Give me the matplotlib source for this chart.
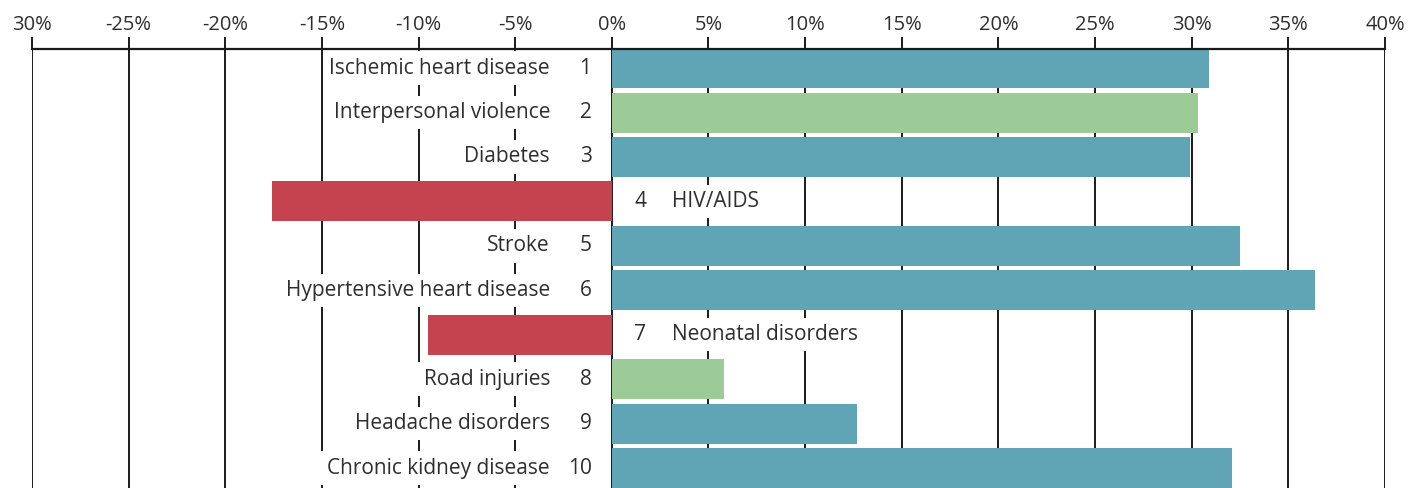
import matplotlib.pyplot as plt

causes = ["Ischemic heart disease", "Interpersonal violence", "Diabetes", "HIV/AIDS",
          "Stroke", "Hypertensive heart disease", "Neonatal disorders", "Road injuries",
          "Headache disorders", "Chronic kidney disease"]
ranks = [1, 2, 3, 4, 5, 6, 7, 8, 9, 10]
change = [30.9, 30.3, 29.9, -17.6, 32.5, 36.4, -9.5, 5.8, 12.7, 32.1]
group = ["ncd", "injury", "ncd", "comm", "ncd", "ncd", "comm", "injury", "ncd", "ncd"]

tick_vals = [-30, -25, -20, -15, -10, -5, 0, 5, 10, 15, 20, 25, 30, 35, 40]
tick_labels = ["30%", "-25%", "-20%", "-15%", "-10%", "-5%", "0%", "5%", "10%",
               "15%", "20%", "25%", "30%", "35%", "40%"]

colors = {"ncd": "#5fa5b6", "injury": "#9ccb98", "comm": "#c4434f"}
txt = "#2e2e2e"

plt.rcParams['font.family'] = ['Open Sans', 'DejaVu Sans']

fig = plt.figure(figsize=(14.18, 4.88), dpi=100)
ax = fig.add_axes([32 / 1418, 0, (1385 - 32) / 1418, 1 - 49 / 488])

ypos = list(range(len(causes)))
ax.barh(ypos, change, height=0.9, color=[colors[g] for g in group], zorder=3)

# labels with white boxes hiding the gridlines
for y, name, r, v in zip(ypos, causes, ranks, change):
    box = dict(boxstyle="square,pad=0.3", facecolor="white", edgecolor="none")
    if v >= 0:
        ax.text(-3.2, y, name, ha="right", va="center", fontsize=15, color=txt,
                bbox=box, zorder=2)
        ax.text(-1.05, y, str(r), ha="right", va="center", fontsize=15, color=txt, zorder=2)
    else:
        ax.text(1.15, y, str(r), ha="left", va="center", fontsize=15, color=txt, zorder=2)
        ax.text(3.1, y, name, ha="left", va="center", fontsize=15, color=txt,
                bbox=box, zorder=2)

ax.set_xlim(-30, 40)
ax.set_ylim(9.45, -0.43)

for x in tick_vals:
    ax.axvline(x, color="#1a1a1a", lw=1.4, zorder=1)

ax.xaxis.tick_top()
ax.set_xticks(tick_vals)
ax.set_xticklabels(tick_labels, fontsize=14.5, color=txt)
ax.tick_params(axis="x", direction="out", length=9, width=1.4, color="#1a1a1a", pad=1)
ax.set_yticks([])

for s in ["left", "right", "bottom"]:
    ax.spines[s].set_visible(False)
ax.spines["top"].set_linewidth(1.6)
ax.spines["top"].set_color("#1a1a1a")
ax.spines["top"].set_zorder(4)

fig.savefig("out.png", dpi=100)
